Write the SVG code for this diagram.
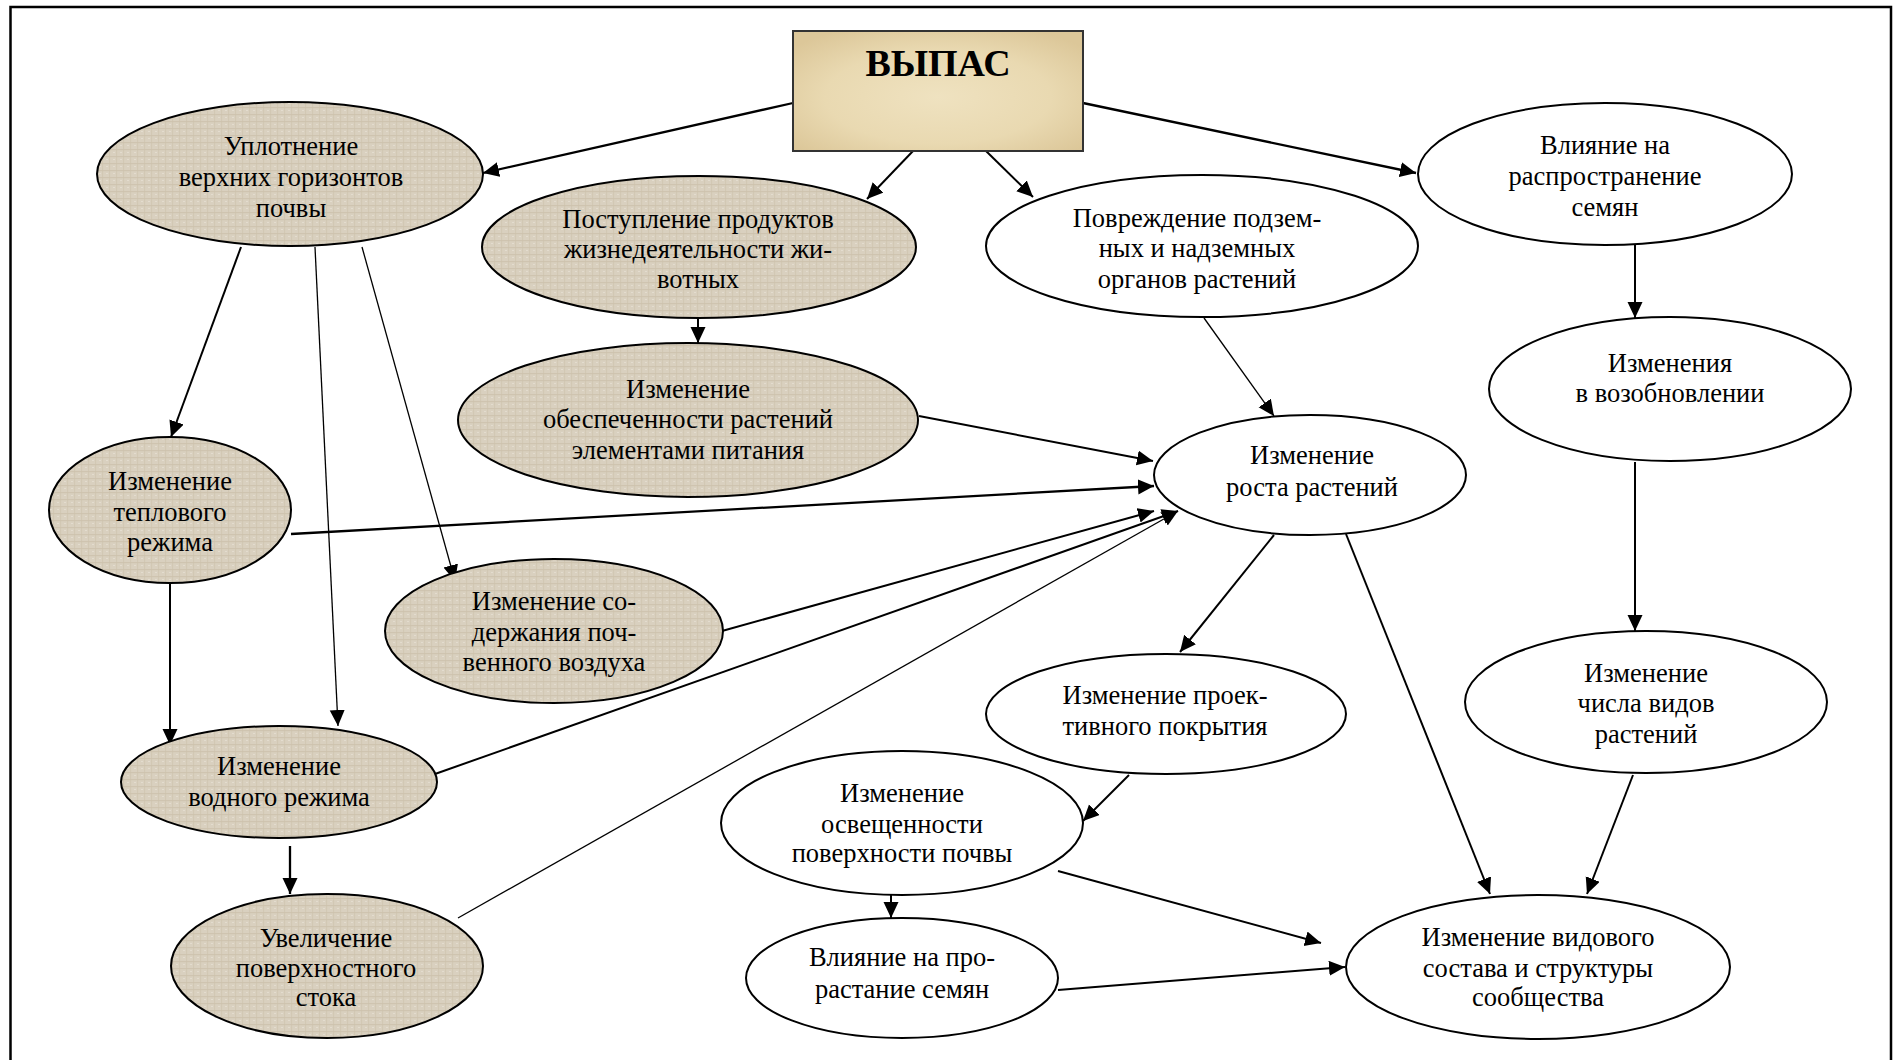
<svg xmlns="http://www.w3.org/2000/svg" width="1899" height="1060" viewBox="0 0 1899 1060">
<style>
.t{font-family:"Liberation Serif","Times New Roman",serif;font-size:26.5px;fill:#000;text-anchor:middle}
.h{font-family:"Liberation Serif","Times New Roman",serif;font-size:38px;font-weight:bold;fill:#000;text-anchor:middle}
.e{stroke:#000;stroke-width:2}
.w{fill:#fff}
.s{fill:url(#linen)}
.c{stroke:#000;stroke-width:2;fill:none;marker-end:url(#ah)}
.n{stroke-width:1.3}
.k{stroke-width:2.3}
</style>
<defs>
<marker id="ah" markerUnits="userSpaceOnUse" markerWidth="18" markerHeight="16" refX="16" refY="7.5" orient="auto">
<path d="M0,0 L16,7.5 L0,15 z" fill="#000"/>
</marker>
<pattern id="linen" width="7" height="7" patternUnits="userSpaceOnUse">
<rect width="7" height="7" fill="#d9d0bf"/>
<rect y="2" width="7" height="1.2" fill="#cbc0aa" opacity="0.7"/>
<rect x="4" width="1.2" height="7" fill="#cdc3ae" opacity="0.6"/>
<rect x="1" y="5" width="2" height="1" fill="#e6dfd2" opacity="0.8"/>
</pattern>
<radialGradient id="parch" cx="50%" cy="55%" r="65%">
<stop offset="0" stop-color="#efe2c0"/>
<stop offset="0.6" stop-color="#e9d9b1"/>
<stop offset="1" stop-color="#dcc799"/>
</radialGradient>
</defs>
<rect width="1899" height="1060" fill="#fff"/>
<path d="M10.5,1060 V7 H1891 V1060" fill="none" stroke="#000" stroke-width="2.5"/>

<g id="connectors">
<line class="c k" x1="793" y1="103" x2="483" y2="173"/>
<line class="c" x1="913" y1="151" x2="867" y2="199"/>
<line class="c" x1="986" y1="151" x2="1033" y2="197"/>
<line class="c k" x1="1083" y1="103" x2="1416" y2="173"/>
<line class="c" x1="241" y1="247" x2="171" y2="437"/>
<line class="c n" x1="315" y1="247" x2="338" y2="726"/>
<line class="c n" x1="362" y1="247" x2="455" y2="581"/>
<line class="c" x1="698" y1="317" x2="698" y2="343"/>
<line class="c n" x1="1204" y1="318" x2="1274" y2="416"/>
<line class="c" x1="919" y1="416" x2="1153" y2="461"/>
<line class="c k" x1="291" y1="534" x2="1154" y2="486"/>
<line class="c" x1="722" y1="631" x2="1154" y2="511"/>
<line class="c" x1="435" y1="774" x2="1178" y2="511"/>
<line class="c n" x1="458" y1="918" x2="1178" y2="511"/>
<line class="c" x1="170" y1="583" x2="170" y2="745"/>
<line class="c k" x1="290" y1="846" x2="290" y2="894"/>
<line class="c" x1="1635" y1="245" x2="1635" y2="318"/>
<line class="c" x1="1635" y1="462" x2="1635" y2="631"/>
<line class="c" x1="1274" y1="535" x2="1180" y2="652"/>
<line class="c" x1="1346" y1="534" x2="1490" y2="894"/>
<line class="c" x1="1633" y1="775" x2="1587" y2="894"/>
<line class="c" x1="1129" y1="775" x2="1083" y2="821"/>
<line class="c" x1="891" y1="895" x2="891" y2="918"/>
<line class="c" x1="1058" y1="871" x2="1321" y2="943"/>
<line class="c" x1="1058" y1="990" x2="1345" y2="967"/>
</g>

<g id="vypas">
<rect x="793" y="31" width="290" height="120" fill="url(#parch)" stroke="#333" stroke-width="2"/>
<text class="h" x="938" y="76">ВЫПАС</text>
</g>

<g id="uplotnenie">
<ellipse class="e s" cx="290" cy="174" rx="193" ry="72"/>
<text class="t" x="291" y="155">Уплотнение</text>
<text class="t" x="291" y="186">верхних горизонтов</text>
<text class="t" x="291" y="217">почвы</text>
</g>

<g id="postuplenie">
<ellipse class="e s" cx="699" cy="247" rx="217" ry="71"/>
<text class="t" x="698" y="228">Поступление продуктов</text>
<text class="t" x="698" y="258">жизнедеятельности жи-</text>
<text class="t" x="698" y="288">вотных</text>
</g>

<g id="povrezhdenie">
<ellipse class="e w" cx="1202" cy="246" rx="216" ry="71"/>
<text class="t" x="1197" y="227">Повреждение подзем-</text>
<text class="t" x="1197" y="257">ных и надземных</text>
<text class="t" x="1197" y="288">органов растений</text>
</g>

<g id="rasprostranenie">
<ellipse class="e w" cx="1605" cy="174" rx="187" ry="71"/>
<text class="t" x="1605" y="154">Влияние на</text>
<text class="t" x="1605" y="185">распространение</text>
<text class="t" x="1605" y="216">семян</text>
</g>

<g id="obespechennost">
<ellipse class="e s" cx="688" cy="420" rx="230" ry="77"/>
<text class="t" x="688" y="398">Изменение</text>
<text class="t" x="688" y="428">обеспеченности растений</text>
<text class="t" x="688" y="459">элементами питания</text>
</g>

<g id="vozobnovlenie">
<ellipse class="e w" cx="1670" cy="389" rx="181" ry="72"/>
<text class="t" x="1670" y="372">Изменения</text>
<text class="t" x="1670" y="402">в возобновлении</text>
</g>

<g id="teplovoy">
<ellipse class="e s" cx="170" cy="510" rx="121" ry="73"/>
<text class="t" x="170" y="490">Изменение</text>
<text class="t" x="170" y="521">теплового</text>
<text class="t" x="170" y="551">режима</text>
</g>

<g id="rost">
<ellipse class="e w" cx="1310" cy="475" rx="156" ry="60"/>
<text class="t" x="1312" y="464">Изменение</text>
<text class="t" x="1312" y="496">роста растений</text>
</g>

<g id="vozduh">
<ellipse class="e s" cx="554" cy="631" rx="169" ry="72"/>
<text class="t" x="554" y="610">Изменение со-</text>
<text class="t" x="554" y="641">держания поч-</text>
<text class="t" x="554" y="671">венного воздуха</text>
</g>

<g id="proektivnoe">
<ellipse class="e w" cx="1166" cy="714" rx="180" ry="60"/>
<text class="t" x="1165" y="704">Изменение проек-</text>
<text class="t" x="1165" y="735">тивного покрытия</text>
</g>

<g id="chislo">
<ellipse class="e w" cx="1646" cy="702" rx="181" ry="71"/>
<text class="t" x="1646" y="682">Изменение</text>
<text class="t" x="1646" y="712">числа видов</text>
<text class="t" x="1646" y="743">растений</text>
</g>

<g id="vodny">
<ellipse class="e s" cx="279" cy="782" rx="158" ry="56"/>
<text class="t" x="279" y="775">Изменение</text>
<text class="t" x="279" y="806">водного режима</text>
</g>

<g id="osveshennost">
<ellipse class="e w" cx="902" cy="823" rx="181" ry="72"/>
<text class="t" x="902" y="802">Изменение</text>
<text class="t" x="902" y="833">освещенности</text>
<text class="t" x="902" y="862">поверхности почвы</text>
</g>

<g id="stok">
<ellipse class="e s" cx="327" cy="966" rx="156" ry="72"/>
<text class="t" x="326" y="947">Увеличение</text>
<text class="t" x="326" y="977">поверхностного</text>
<text class="t" x="326" y="1006">стока</text>
</g>

<g id="prorastanie">
<ellipse class="e w" cx="902" cy="978" rx="156" ry="60"/>
<text class="t" x="902" y="966">Влияние на про-</text>
<text class="t" x="902" y="998">растание семян</text>
</g>

<g id="vidovoy">
<ellipse class="e w" cx="1538" cy="967" rx="192" ry="72"/>
<text class="t" x="1538" y="946">Изменение видового</text>
<text class="t" x="1538" y="977">состава и структуры</text>
<text class="t" x="1538" y="1006">сообщества</text>
</g>
</svg>
